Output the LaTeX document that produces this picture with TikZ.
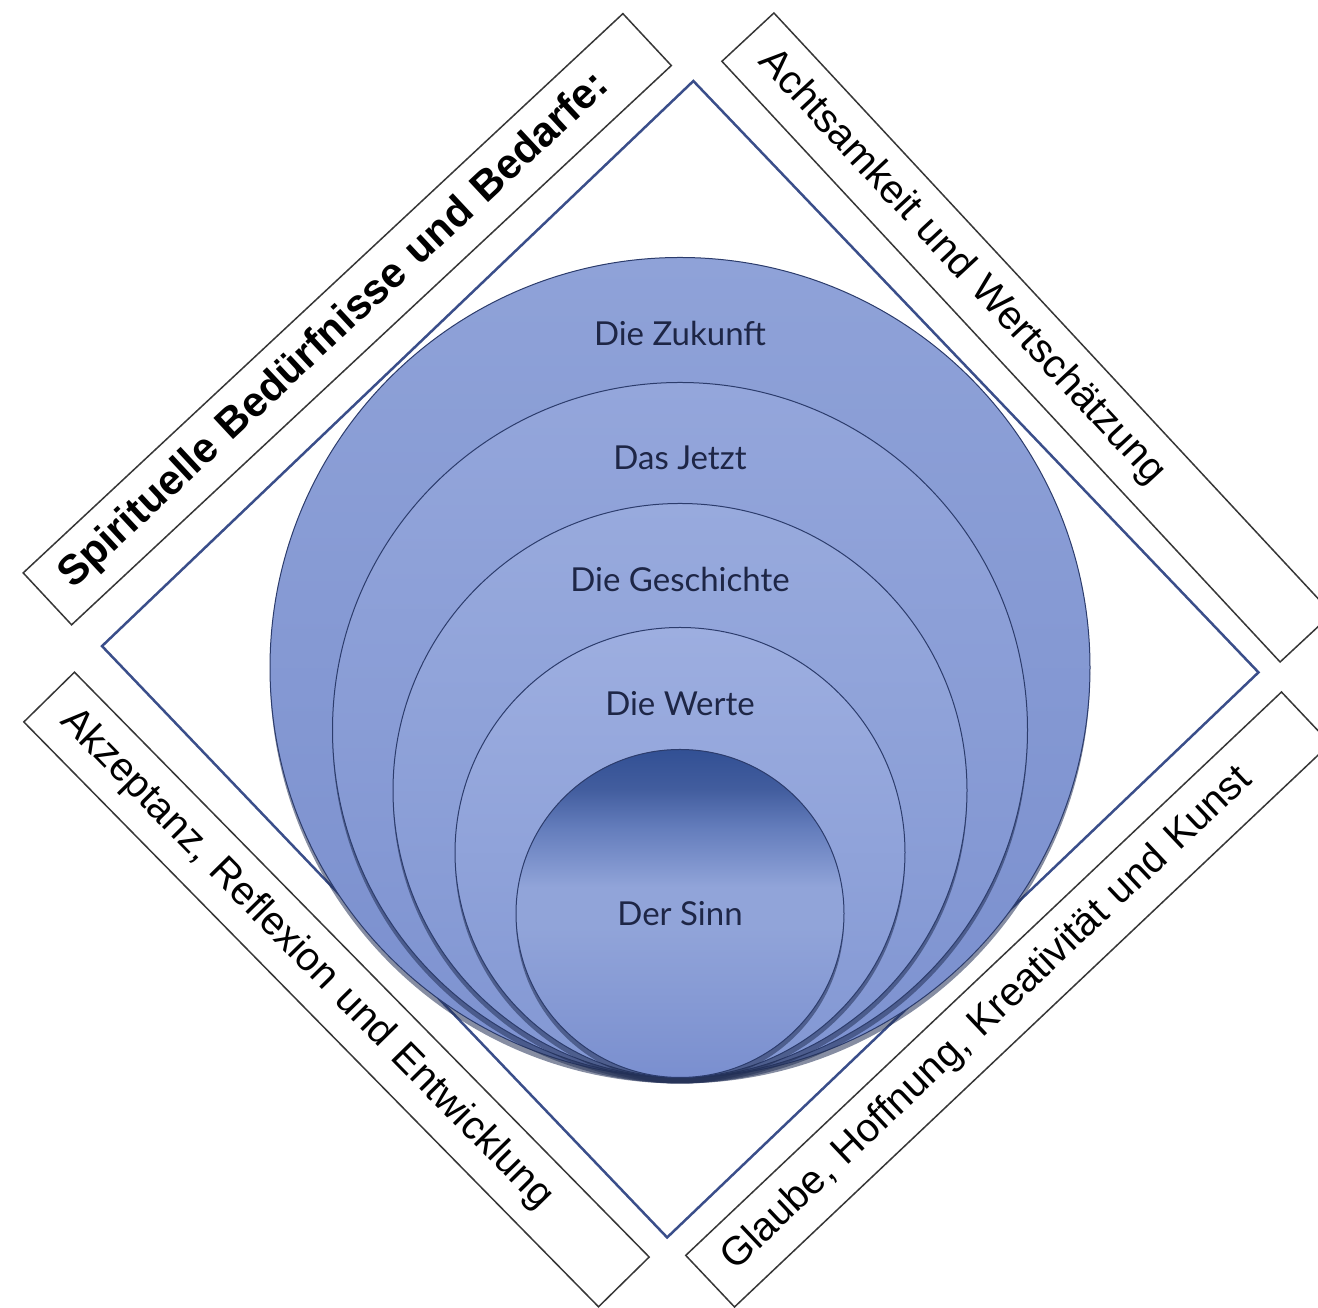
\documentclass[tikz,border=0pt]{standalone}
\usepackage{fontspec}
\setmainfont{Liberation Sans}
\newfontfamily\ringfont{Lato}
\usetikzlibrary{positioning, shadows}

\definecolor{framenavy}{RGB}{58,78,138}
\definecolor{boxline}{RGB}{55,55,55}
\definecolor{ringline}{RGB}{44,60,108}
\definecolor{ringtext}{RGB}{30,38,70}
\definecolor{zukunfttop}{RGB}{143,162,216}
\definecolor{zukunftbot}{RGB}{122,143,206}
\definecolor{jetzttop}{RGB}{148,166,219}
\definecolor{jetztbot}{RGB}{125,146,208}
\definecolor{geschtop}{RGB}{152,170,221}
\definecolor{geschbot}{RGB}{128,149,210}
\definecolor{wertetop}{RGB}{157,174,224}
\definecolor{wertebot}{RGB}{130,151,211}
\definecolor{sinntop}{RGB}{50,80,148}
\definecolor{sinndark}{RGB}{66,93,158}
\definecolor{sinnmed}{RGB}{100,125,188}
\definecolor{sinnmid}{RGB}{145,164,217}
\definecolor{sinnbot}{RGB}{122,143,207}

% dark top, light band a little above the middle
\pgfdeclareverticalshading{sinnshade}{100bp}{color(0bp)=(sinnbot); color(25bp)=(sinnbot); color(48bp)=(sinnmid); color(54bp)=(sinnmid); color(63bp)=(sinnmed); color(69bp)=(sinndark); color(75bp)=(sinntop); color(100bp)=(sinntop)}

\begin{document}
\begin{tikzpicture}[x=1pt, y=1pt,
    sidebox/.style={draw=boxline, line width=1.5pt, fill=white, minimum height=71pt, text width=770pt, inner xsep=25pt, inner ysep=0pt, align=left, font=\fontsize{40}{46}\selectfont},
    ring/.style={circle, draw=ringline, line width=1pt, inner sep=0pt, anchor=south, drop shadow={shadow xshift=0pt, shadow yshift=-6pt, opacity=0.55, fill=ringline!80!black}},
    ringlabel/.style={inner sep=0pt, text=ringtext, font=\ringfont\fontsize{33}{38}\selectfont}
]
\useasboundingbox (0,0) rectangle (1318,1308);

% Diamond frame
\node[draw=framenavy, line width=2.5pt, rotate=43.7, minimum size=818pt] (frame) at (680.25,648.75) {};

% Side boxes
\node[sidebox, rotate=43.0, font=\bfseries\fontsize{42}{46}\selectfont] (needs) at (347.25,988.75) {Spirituelle Bedürfnisse und Bedarfe:};
\node[sidebox, rotate=-47.1] (respect) at (1027,970.5) {Achtsamkeit und Wertschätzung};
\node[sidebox, rotate=-45.5] (accept) at (336.5,318.5) {Akzeptanz, Reflexion und Entwicklung};
\node[sidebox, rotate=43.4] (hope) at (1008,308.5) {Glaube, Hoffnung, Kreativität und Kunst};

% Nested circles, all touching at the bottom
\coordinate (base) at (680,230);
\node[ring, minimum size=820pt, top color=zukunfttop, bottom color=zukunftbot] (zukunft) at (base) {};
\node[ring, minimum size=695pt, top color=jetzttop, bottom color=jetztbot] (jetzt) at (base) {};
\node[ring, minimum size=574pt, top color=geschtop, bottom color=geschbot] (geschichte) at (base) {};
\node[ring, minimum size=450pt, top color=wertetop, bottom color=wertebot] (werte) at (base) {};
\node[ring, minimum size=328pt, shading=sinnshade, text=ringtext, font=\ringfont\fontsize{33}{38}\selectfont] (sinn) at (base) {Der Sinn};

\node[ringlabel, below=64pt of zukunft.north] (lzukunft) {Die Zukunft};
\node[ringlabel, below=64pt of jetzt.north] (ljetzt) {Das Jetzt};
\node[ringlabel, below=64pt of geschichte.north] (lgeschichte) {Die Geschichte};
\node[ringlabel, below=64pt of werte.north] (lwerte) {Die Werte};
\end{tikzpicture}
\end{document}
